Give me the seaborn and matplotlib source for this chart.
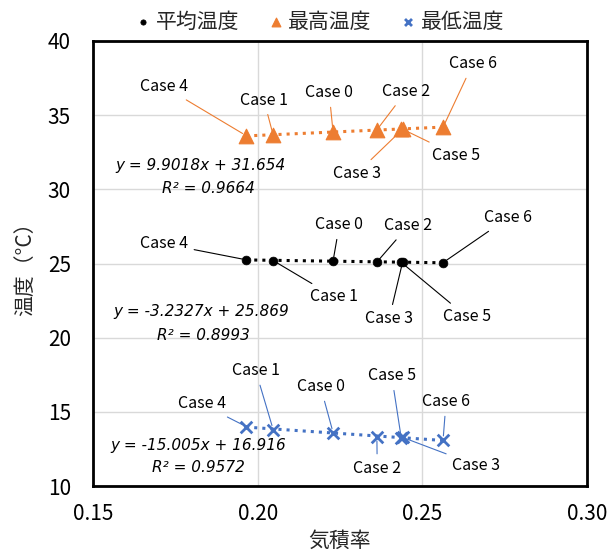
import pandas as pd
import matplotlib.pyplot as plt
import seaborn as sns

# Data (Case 0 .. Case 6)
cases = ['Case 0', 'Case 1', 'Case 2', 'Case 3', 'Case 4', 'Case 5', 'Case 6']
vol_ratio = [0.2229, 0.2047, 0.2362, 0.2440, 0.1965, 0.2436, 0.2563]
t_mean = [25.18, 25.20, 25.10, 25.09, 25.25, 25.08, 25.06]
t_max = [33.85, 33.66, 34.01, 34.05, 33.62, 34.10, 34.19]
t_min = [13.60, 13.81, 13.32, 13.28, 14.01, 13.24, 13.10]

series_names = ['平均温度', '最高温度', '最低温度']
equations = ['y = -3.2327x + 25.869', 'y = 9.9018x + 31.654', 'y = -15.005x + 16.916']
r2_texts = ['R² = 0.8993', 'R² = 0.9664', 'R² = 0.9572']

x_ticks = [0.15, 0.20, 0.25, 0.30]
y_ticks = [10, 15, 20, 25, 30, 35, 40]

# Label positions (data coords), same case order
label_pos_mean = [(0.2248, 27.60), (0.2232, 22.76), (0.2457, 27.53), (0.2399, 21.26),
                  (0.1716, 26.33), (0.2635, 21.41), (0.2760, 28.07)]
label_pos_max = [(0.2217, 36.51), (0.2019, 36.02), (0.2450, 36.58), (0.2301, 31.08),
                 (0.1716, 36.92), (0.2602, 32.31), (0.2653, 38.45)]
label_pos_min = [(0.2191, 16.69), (0.1994, 17.77), (0.2363, 11.19), (0.2663, 11.41),
                 (0.1830, 15.53), (0.2407, 17.42), (0.2572, 15.68)]
eq_pos = [((0.1830, 21.75), (0.1834, 20.18)),
          ((0.1825, 31.64), (0.1849, 30.09)),
          ((0.1820, 12.76), (0.1820, 11.28))]

sns.set_style('white')
plt.rcParams['font.family'] = ['Noto Sans CJK JP', 'DejaVu Sans']

colors = ['black', '#ED7D31', '#4472C4']
markers = ['o', '^', 'x']
sizes = [40, 110, 70]
series_vals = [t_mean, t_max, t_min]
label_pos = [label_pos_mean, label_pos_max, label_pos_min]

fig = plt.figure(figsize=(6.14, 5.54), dpi=100)
ax = fig.add_axes([0.1515, 0.1227, 0.8045, 0.8033])

for name, vals, col, mk, sz, pos, eq, r2, ep in zip(series_names, series_vals, colors, markers,
                                                   sizes, label_pos, equations, r2_texts, eq_pos):
    df = pd.DataFrame({'気積率': vol_ratio, '温度': vals, 'case': cases})
    sns.regplot(data=df, x='気積率', y='温度', scatter=False, ci=None, color=col,
                line_kws=dict(ls=':', lw=2.2), ax=ax)
    kw = dict(color=col, marker=mk, s=sz, label=name, ax=ax, zorder=4)
    if mk == 'x':
        kw['linewidths'] = 2
    else:
        kw['edgecolor'] = col
    sns.scatterplot(data=df, x='気積率', y='温度', **kw)
    for case, xv, yv, (tx, ty) in zip(cases, vol_ratio, vals, pos):
        ax.annotate(case, xy=(xv, yv), xytext=(tx, ty), ha='center', va='center',
                    fontsize=11.5, color='black',
                    arrowprops=dict(arrowstyle='-', color=col, lw=0.8, shrinkB=3))
    eq_kw = dict(ha='center', va='center', fontsize=11, style='italic',
                 family=['DejaVu Sans'], color='black')
    ax.text(ep[0][0], ep[0][1], eq, **eq_kw)
    ax.text(ep[1][0], ep[1][1], r2, **eq_kw)

ax.set_xlim(0.15, 0.30)
ax.set_ylim(10, 40)
ax.set_xticks(x_ticks)
ax.set_yticks(y_ticks)
ax.set_xticklabels([f'{v:.2f}' for v in x_ticks])
ax.grid(True, color='#d9d9d9', lw=1)
ax.set_axisbelow(True)
for sp in ax.spines.values():
    sp.set_color('black')
    sp.set_linewidth(2)
ax.tick_params(direction='inout', length=8, width=1.5, labelsize=15, colors='black')
ax.tick_params(axis='y', pad=12)
ax.tick_params(axis='x', pad=8)
ax.set_xlabel('気積率', fontsize=15, labelpad=4)
ax.set_ylabel('温度（°C）', fontsize=15, labelpad=8)

ax.legend(loc='lower center', bbox_to_anchor=(0.46, 1.0), ncol=3, frameon=False,
          fontsize=15, handlelength=0.7, handletextpad=0.25, columnspacing=1.4,
          markerscale=0.6, borderaxespad=0.0)

fig.savefig('out.png', dpi=100)
